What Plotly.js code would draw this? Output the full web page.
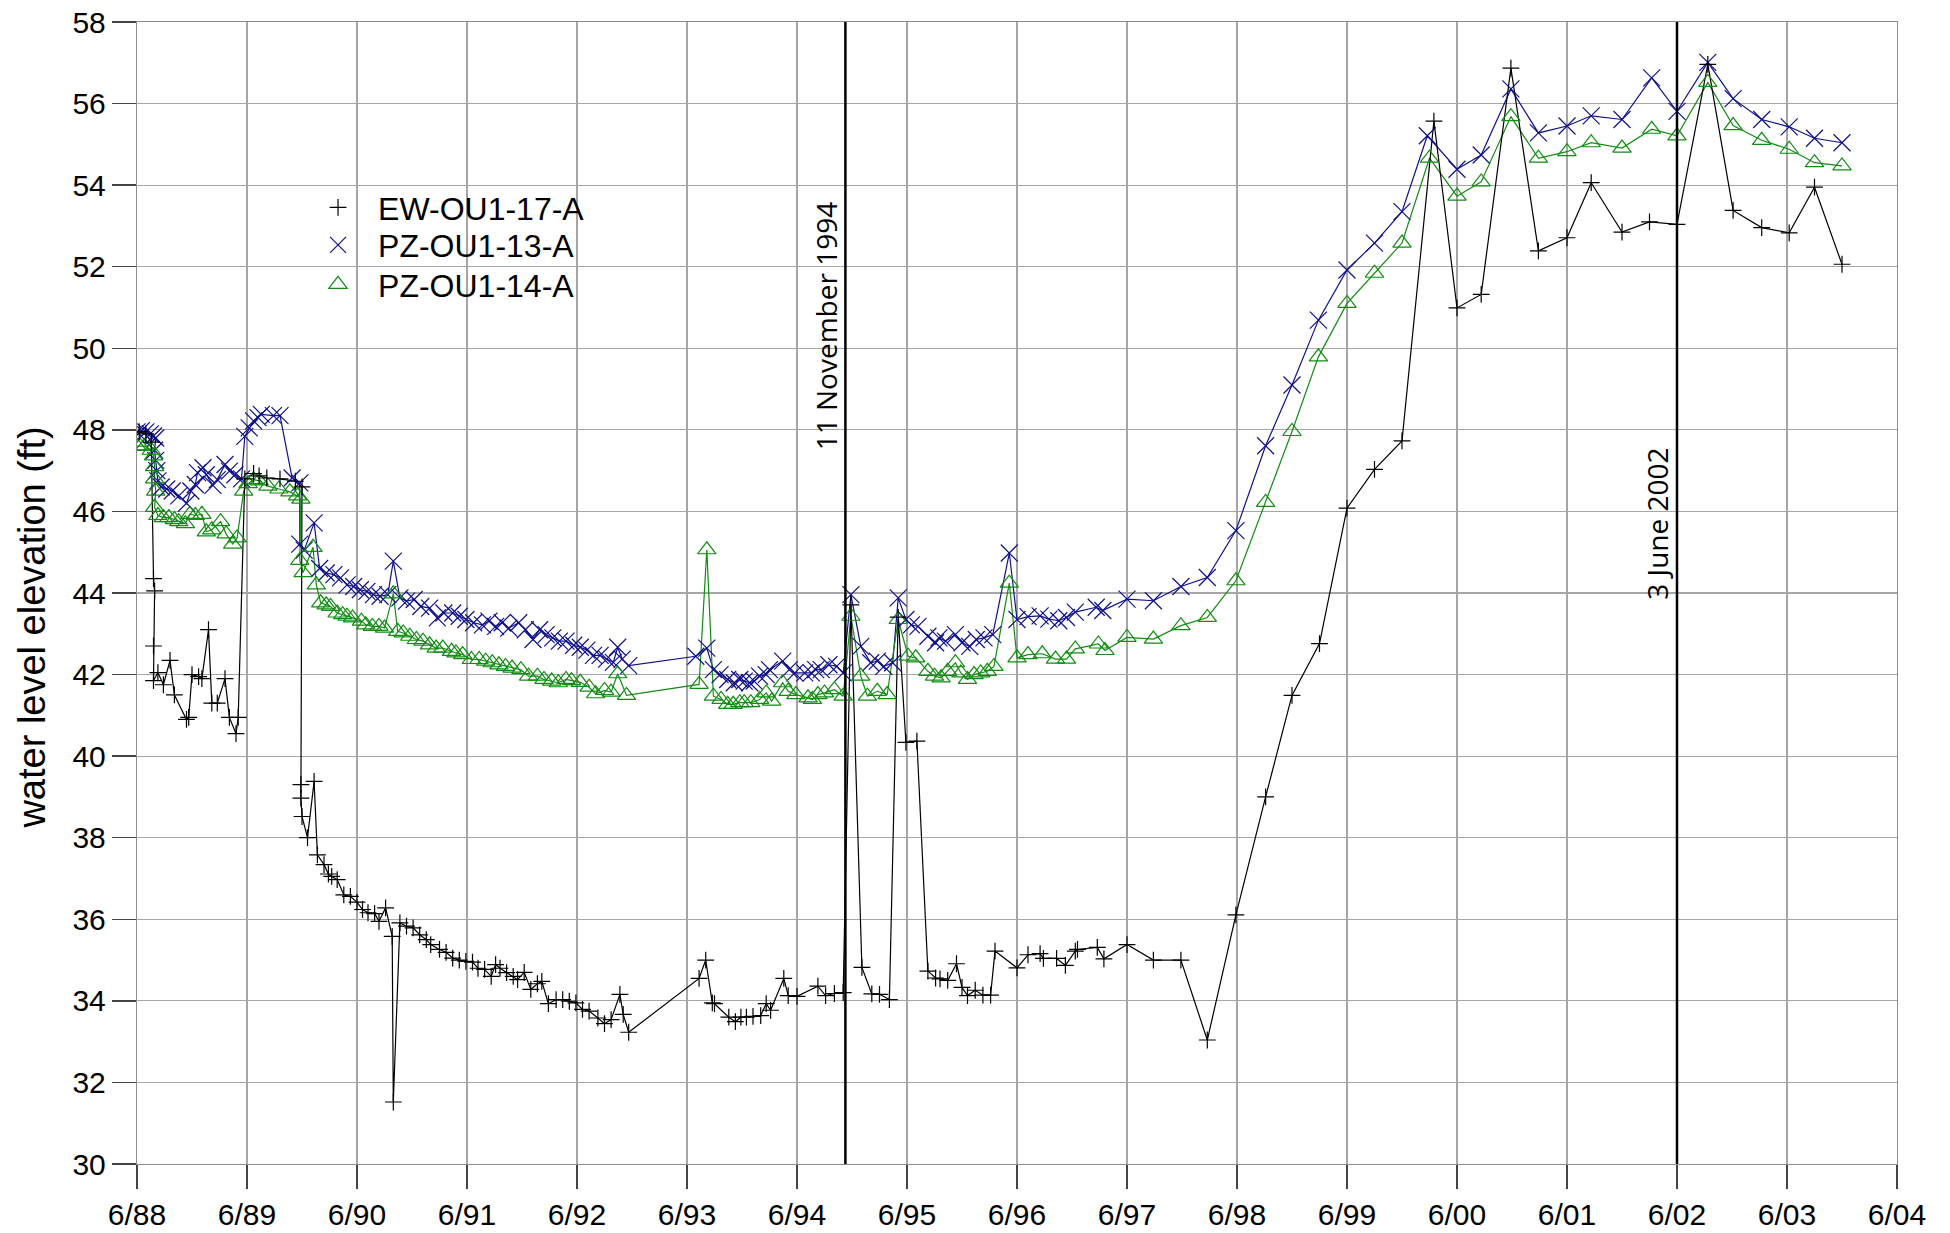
<!DOCTYPE html>
<html>
<head>
<meta charset="utf-8">
<script src="https://cdn.plot.ly/plotly-3.0.1.min.js"></script>
<style>html,body{margin:0;padding:0;background:#fff;}#chart{width:1950px;height:1233px;}</style>
</head>
<body>
<div id="chart"></div>
<script>
// ---- data (x = decimal year, y = water level elevation in ft) ----
const ewX = [1988.44,1988.50,1988.55,1988.57,1988.58,1988.57,1988.57,1988.61,1988.66,1988.72,1988.76,1988.87,1988.89,1988.92,1988.98,1989.01,1989.07,1989.10,1989.15,1989.22,1989.26,1989.32,1989.34,
1989.40,1989.48,1989.53,1989.60,1989.72,1989.86,1989.92,
1989.91,1989.91,1989.92,1989.97,1990.03,1990.06,1990.12,1990.16,1990.19,1990.24,1990.30,1990.36,1990.42,1990.47,1990.52,1990.58,1990.62,1990.68,1990.74,1990.75,1990.81,1990.87,1990.93,1990.99,1991.05,1991.09,1991.17,1991.23,1991.29,1991.35,1991.41,1991.47,1991.52,1991.58,1991.64,1991.68,1991.72,1991.78,1991.84,1991.88,1991.94,1992.00,1992.06,1992.10,1992.16,1992.23,1992.29,1992.35,1992.41,1992.47,1992.53,1992.61,1992.67,1992.73,1992.81,1992.84,1992.89,
1993.53,1993.59,1993.65,1993.67,1993.80,1993.86,1993.91,1993.96,1994.02,1994.09,1994.14,1994.18,1994.30,1994.34,1994.42,1994.61,1994.68,1994.76,1994.84,1994.91,1995.01,1995.10,1995.17,1995.26,1995.34,1995.41,1995.51,1995.61,1995.68,1995.72,1995.79,1995.87,1995.92,1995.97,1996.04,1996.11,1996.18,1996.22,1996.42,1996.52,1996.63,1996.66,1996.78,1996.86,1996.95,1996.97,1997.15,1997.21,1997.42,1997.66,1997.91,1998.15,1998.41,1998.68,1998.92,1999.17,1999.42,1999.67,1999.92,2000.21,2000.42,2000.64,2000.91,2001.16,2001.42,2001.64,2001.92,2002.17,2002.42,2002.70,2002.93,2003.19,2003.44,2003.67,2003.92];
const ewY = [47.95,47.9,47.7,44.35,44.05,42.7,41.85,42.05,41.75,42.35,41.5,40.9,40.95,42.0,41.95,41.9,43.1,41.3,41.3,41.9,40.95,40.55,40.95,
46.8,46.93,46.87,46.82,46.8,46.74,46.6,
39.3,38.97,38.52,38.0,39.38,37.58,37.34,37.11,37.05,36.97,36.6,36.56,36.42,36.24,36.16,36.14,35.95,36.28,35.58,31.52,35.91,35.83,35.79,35.62,35.5,35.38,35.26,35.19,35.05,35.0,34.97,34.95,34.8,34.77,34.6,34.89,34.8,34.69,34.6,34.52,34.7,34.28,34.42,34.48,33.93,34.03,34.03,33.99,33.95,33.79,33.75,33.58,33.44,33.54,34.16,33.67,33.23,
34.55,35.0,33.95,33.93,33.6,33.49,33.6,33.6,33.62,33.64,33.93,33.77,34.55,34.13,34.11,34.36,34.13,34.18,34.2,43.71,34.82,34.17,34.16,34.03,43.41,40.34,40.37,34.73,34.56,34.54,34.5,34.91,34.33,34.13,34.26,34.14,34.14,35.22,34.81,35.13,35.16,35.04,35.04,34.87,35.22,35.26,35.31,35.03,35.38,35.0,35.0,33.04,36.11,39.0,41.49,42.76,46.08,47.03,47.73,55.57,50.99,51.32,56.87,52.39,52.71,54.06,52.85,53.1,53.04,56.96,53.38,52.96,52.83,53.95,52.06];

const pz13X = [1988.42,1988.46,1988.50,1988.54,1988.57,1988.59,1988.58,1988.59,1988.60,1988.61,1988.64,1988.69,1988.74,1988.80,1988.87,1988.91,1988.95,1988.97,1989.02,1989.05,1989.11,1989.15,1989.22,1989.26,1989.31,1989.37,1989.40,1989.44,1989.48,1989.52,1989.55,1989.66,1989.72,1989.83,1989.90,
1989.90,1989.94,1990.03,1990.08,1990.14,1990.21,1990.27,1990.33,1990.39,1990.45,1990.51,1990.57,1990.63,1990.70,1990.75,1990.81,1990.87,1990.94,1991.00,1991.08,1991.15,1991.21,1991.29,1991.35,1991.41,1991.48,1991.56,1991.62,1991.68,1991.74,1991.80,1991.89,1991.95,1992.02,1992.08,1992.14,1992.20,1992.26,1992.32,1992.39,1992.45,1992.51,1992.57,1992.63,1992.69,1992.75,1992.79,1992.83,1992.89,
1993.50,1993.60,1993.66,1993.72,1993.79,1993.85,1993.90,1993.94,1993.99,1994.03,1994.08,1994.14,1994.17,1994.29,1994.35,1994.40,1994.49,1994.55,1994.59,1994.64,1994.71,1994.78,1994.84,1994.91,1995.00,1995.09,1995.15,1995.21,1995.29,1995.34,1995.41,1995.46,1995.52,1995.61,1995.68,1995.71,1995.77,1995.86,1995.92,1995.99,1996.05,1996.12,1996.20,1996.35,1996.42,1996.52,1996.63,1996.71,1996.80,1996.87,1996.95,1997.14,1997.20,1997.42,1997.66,1997.91,1998.15,1998.41,1998.68,1998.92,1999.16,1999.42,1999.67,1999.92,2000.15,2000.42,2000.64,2000.91,2001.16,2001.42,2001.64,2001.92,2002.19,2002.42,2002.70,2002.93,2003.19,2003.44,2003.67,2003.92];
const pz13Y = [47.95,47.98,47.95,47.9,47.85,47.8,47.5,47.25,47.0,46.75,46.6,46.55,46.5,46.38,46.2,46.5,46.66,46.95,47.07,46.9,46.64,46.78,47.15,46.99,46.9,46.8,47.84,48.05,48.22,48.3,48.38,48.35,48.35,46.82,46.7,
45.2,45.05,45.72,44.6,44.49,44.45,44.37,44.2,44.16,44.08,44.04,43.96,43.92,43.96,44.78,43.88,43.8,43.84,43.67,43.63,43.39,43.51,43.51,43.43,43.35,43.27,43.22,43.31,43.18,43.27,43.14,43.27,43.1,42.86,43.1,42.98,42.9,42.82,42.82,42.72,42.67,42.6,42.47,42.47,42.38,42.3,42.67,42.38,42.22,
42.45,42.65,42.12,42.0,41.88,41.8,41.88,41.84,41.8,41.84,41.96,42.0,42.12,42.33,42.12,42.04,42.04,42.04,42.12,42.12,42.24,42.2,42.04,43.96,42.69,42.29,42.33,42.2,42.29,43.88,43.35,43.22,43.18,42.94,42.78,42.9,42.82,42.98,42.78,42.69,42.86,42.9,42.98,44.98,43.35,43.42,43.44,43.36,43.32,43.4,43.53,43.65,43.57,43.85,43.81,44.16,44.38,45.53,47.61,49.1,50.69,51.92,52.58,53.35,55.21,54.39,54.74,56.36,55.28,55.45,55.7,55.61,56.63,55.81,57.01,56.12,55.61,55.43,55.15,55.04];

const pz14X = [1988.42,1988.45,1988.49,1988.55,1988.57,1988.58,1988.58,1988.59,1988.58,1988.61,1988.66,1988.71,1988.76,1988.80,1988.86,1988.90,1988.95,1989.01,1989.05,1989.10,1989.18,1989.23,1989.29,1989.33,1989.39,1989.43,1989.48,1989.53,1989.61,1989.71,1989.81,1989.88,1989.91,
1989.90,1989.93,1990.02,1990.05,1990.09,1990.14,1990.18,1990.24,1990.29,1990.33,1990.38,1990.46,1990.50,1990.56,1990.62,1990.67,1990.75,1990.79,1990.84,1990.90,1990.96,1991.02,1991.08,1991.14,1991.20,1991.28,1991.32,1991.38,1991.46,1991.53,1991.59,1991.65,1991.71,1991.77,1991.83,1991.91,1991.98,1992.06,1992.12,1992.19,1992.25,1992.32,1992.37,1992.45,1992.53,1992.59,1992.67,1992.73,1992.79,1992.87,
1993.53,1993.60,1993.66,1993.73,1993.79,1993.84,1993.90,1993.94,1994.00,1994.08,1994.14,1994.19,1994.29,1994.34,1994.41,1994.52,1994.56,1994.61,1994.67,1994.76,1994.84,1994.91,1995.00,1995.06,1995.15,1995.24,1995.34,1995.43,1995.50,1995.61,1995.67,1995.73,1995.79,1995.86,1995.91,1995.97,1996.03,1996.09,1996.15,1996.21,1996.35,1996.42,1996.52,1996.65,1996.77,1996.87,1996.95,1997.16,1997.22,1997.42,1997.66,1997.91,1998.15,1998.41,1998.68,1998.92,1999.16,1999.42,1999.67,1999.92,2000.17,2000.42,2000.64,2000.91,2001.16,2001.42,2001.64,2001.92,2002.19,2002.42,2002.70,2002.93,2003.19,2003.44,2003.67,2003.92];
const pz14Y = [47.6,47.6,47.6,47.5,47.36,47.1,46.8,46.5,46.1,45.9,45.85,45.85,45.8,45.75,45.7,45.93,45.9,45.93,45.5,45.55,45.75,45.45,45.2,45.35,46.5,46.68,46.78,46.75,46.62,46.55,46.48,46.38,46.3,
44.8,44.5,45.12,44.2,43.76,43.71,43.67,43.51,43.47,43.43,43.39,43.31,43.22,43.18,43.18,43.14,43.98,43.06,43.02,42.94,42.86,42.82,42.73,42.65,42.65,42.57,42.53,42.49,42.37,42.37,42.33,42.29,42.24,42.2,42.16,42.12,41.96,41.96,41.88,41.84,41.8,41.88,41.85,41.81,41.69,41.53,41.61,41.57,42.02,41.49,
41.76,45.06,41.47,41.39,41.27,41.27,41.31,41.31,41.31,41.39,41.55,41.35,41.8,41.59,41.51,41.43,41.39,41.51,41.55,41.63,41.47,43.43,41.96,41.47,41.59,41.51,43.35,42.45,42.41,42.08,41.96,41.92,42.08,42.29,42.04,41.88,42.0,42.04,42.08,42.2,44.24,42.41,42.49,42.51,42.38,42.38,42.63,42.75,42.59,42.91,42.87,43.2,43.4,44.3,46.22,47.96,49.79,51.1,51.84,52.58,54.66,53.73,54.08,55.68,54.66,54.82,55.04,54.91,55.37,55.21,56.52,55.46,55.1,54.88,54.55,54.47];

const seriesNames = ['EW-OU1-17-A','PZ-OU1-13-A','PZ-OU1-14-A'];
const tickYears = [1988.42,1989.42,1990.42,1991.42,1992.42,1993.42,1994.42,1995.42,1996.42,1997.42,1998.42,1999.42,2000.42,2001.42,2002.42,2003.42,2004.42];
const tickLabels = ['6/88','6/89','6/90','6/91','6/92','6/93','6/94','6/95','6/96','6/97','6/98','6/99','6/00','6/01','6/02','6/03','6/04'];
const eventYears = [1994.86, 2002.42];
const eventLabels = ['11 November 1994','3 June 2002'];
const yTitle = 'water level elevation (ft)';

// ---- styling ----
const BLACK = '#000000', BLUE = '#10108c', GREEN = '#128c12';
const FONT = 'Liberation Sans, Arial, sans-serif';

function lineTrace(x, y, color){
  return {x:x, y:y, type:'scatter', mode:'lines', showlegend:false, hoverinfo:'skip',
          line:{color:color, width:1.2}};
}
function markerTrace(x, y, name, color, symbol, size, legendId){
  return {x:x, y:y, type:'scatter', mode:'markers', name:name, legend:legendId,
          marker:{symbol:symbol, size:size, color:color, line:{color:color, width:1.2}}};
}

const traces = [
  lineTrace(pz13X, pz13Y, BLUE),
  lineTrace(pz14X, pz14Y, GREEN),
  lineTrace(ewX, ewY, BLACK),
  markerTrace(pz13X, pz13Y, seriesNames[1], BLUE, 'x-thin-open', 17, 'legend2'),
  markerTrace(pz14X, pz14Y, seriesNames[2], GREEN, 'triangle-up-open', 16, 'legend3'),
  markerTrace(ewX, ewY, seriesNames[0], BLACK, 'cross-thin-open', 12, 'legend')
];

const shapes = eventYears.map(function(ex){
  return {type:'line', xref:'x', yref:'paper', x0:ex, x1:ex, y0:0, y1:1,
          line:{color:'#000', width:2.5}};
});
const annotations = eventYears.map(function(ex, i){
  return {x:ex, y:[50.55,45.7][i], xref:'x', yref:'y', text:eventLabels[i], showarrow:false,
          textangle:-90, xshift:-20, font:{family:'Open Sans, sans-serif', size:28, color:'#000'}};
});
// y-axis title, placed as in the reference (slightly below the axis centre)
annotations.push({x:-0.0598, y:0.4695, xref:'paper', yref:'paper', xanchor:'center', yanchor:'middle',
  text:yTitle, showarrow:false, textangle:-90, font:{family:FONT, size:38, color:'#000'}});

function legendAt(y){
  return {x:0.0915, y:y, xanchor:'left', yanchor:'top', bgcolor:'rgba(0,0,0,0)',
          font:{family:FONT, size:32, color:'#000'}, itemwidth:70};
}

const layout = {
  width:1950, height:1233,
  margin:{l:137, r:53, t:22, b:69, pad:0},
  paper_bgcolor:'#fff', plot_bgcolor:'#fff',
  font:{family:FONT, color:'#000', size:30},
  showlegend:true,
  legend:legendAt(0.8615),
  legend2:legendAt(0.8288),
  legend3:legendAt(0.7942),
  xaxis:{range:[1988.42, 2004.42], tickmode:'array', tickvals:tickYears, ticktext:tickLabels,
         showgrid:true, gridcolor:'#a6a6a6', gridwidth:1.2,
         showline:true, linecolor:'#8c8c8c', linewidth:1.2, mirror:true,
         ticks:'outside', ticklen:24, tickwidth:1.3, tickcolor:'#444',
         tickfont:{family:FONT, size:30, color:'#000'}, zeroline:false, automargin:false},
  yaxis:{range:[30, 58], tickmode:'array', tickvals:[30,32,34,36,38,40,42,44,46,48,50,52,54,56,58],
         showgrid:true, gridcolor:'#a6a6a6', gridwidth:1.2,
         showline:true, linecolor:'#8c8c8c', linewidth:1.2, mirror:true,
         ticks:'outside', ticklen:24, tickwidth:1.3, tickcolor:'#444',
         tickfont:{family:FONT, size:30, color:'#000'}, zeroline:false, automargin:false},
  shapes:shapes, annotations:annotations
};

Plotly.newPlot('chart', traces, layout, {displayModeBar:false, staticPlot:true});
</script>
</body>
</html>
